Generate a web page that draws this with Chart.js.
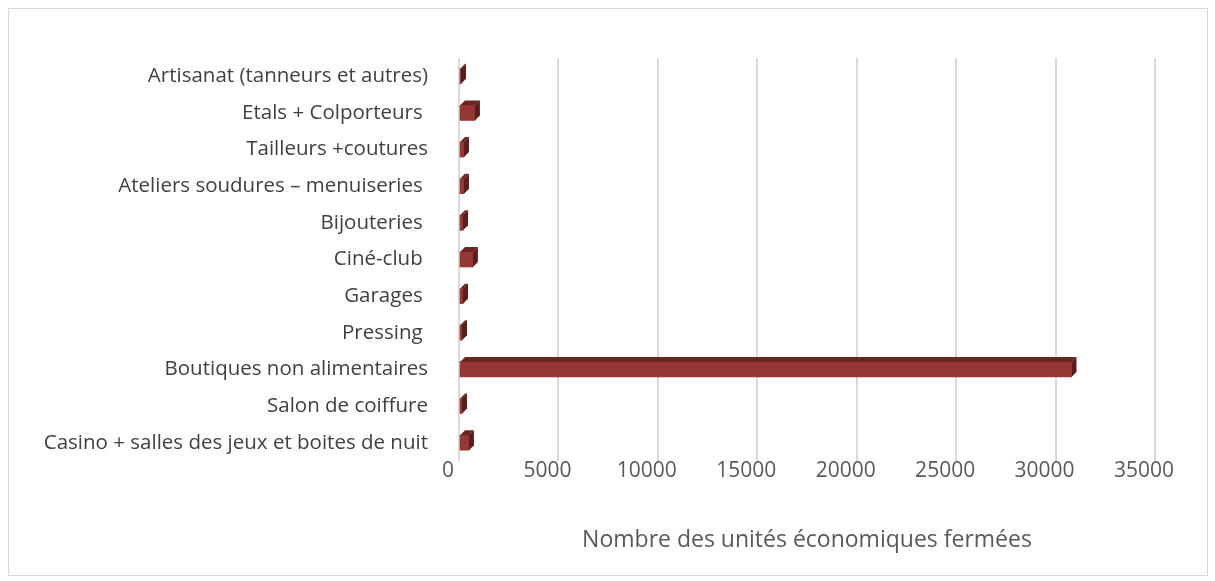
<!DOCTYPE html>
<html lang="fr">
<head>
  <meta charset="UTF-8" />
  <script src="https://cdn.jsdelivr.net/npm/chart.js"></script>
  <title>Unités économiques fermées</title>
  <style>
    body { margin: 0; background: #fff; }
    #cadre { position: absolute; left: 8px; top: 8px; width: 1198px; height: 566px; border: 1px solid #d9d9d9; }
    #zone { width: 1215px; height: 581px; position: relative; }
  </style>
</head>
<body>
  <div id="zone">
    <div id="cadre"></div>
    <canvas id="grafico" width="1215" height="581"></canvas>
  </div>
  <script>
    // categories (du haut vers le bas)
    const categories = [
      'Artisanat (tanneurs et autres)',
      'Etals + Colporteurs ',
      'Tailleurs +coutures',
      'Ateliers soudures – menuiseries ',
      'Bijouteries ',
      'Ciné-club ',
      'Garages ',
      'Pressing ',
      'Boutiques non alimentaires',
      'Salon de coiffure',
      'Casino + salles des jeux et boites de nuit'
    ];
    // valeurs estimées depuis l'image
    const unitesFermees = [100, 800, 250, 250, 200, 700, 200, 150, 30800, 150, 500];
    const ticksX = [0, 5000, 10000, 15000, 20000, 25000, 30000, 35000];

    const police = '"Open Sans", Lato, sans-serif';

    // petit effet 3D : face du dessus + face de droite
    const effet3d = {
      id: 'effet3d',
      afterDatasetsDraw(chart) {
        const ctx = chart.ctx;
        const d = 5;
        chart.getDatasetMeta(0).data.forEach(bar => {
          const x0 = bar.base, x1 = bar.x;
          const h = bar.height, y0 = bar.y - h / 2, y1 = bar.y + h / 2;
          ctx.save();
          ctx.fillStyle = '#6b2423';
          ctx.beginPath();
          ctx.moveTo(x0, y0);
          ctx.lineTo(x0 + d, y0 - d);
          ctx.lineTo(x1 + d, y0 - d);
          ctx.lineTo(x1, y0);
          ctx.closePath();
          ctx.fill();
          ctx.fillStyle = '#5a1d1c';
          ctx.beginPath();
          ctx.moveTo(x1, y0);
          ctx.lineTo(x1 + d, y0 - d);
          ctx.lineTo(x1 + d, y1 - d);
          ctx.lineTo(x1, y1);
          ctx.closePath();
          ctx.fill();
          ctx.restore();
        });
      }
    };

    const ctx = document.getElementById('grafico').getContext('2d');
    new Chart(ctx, {
      type: 'bar',
      data: {
        labels: categories,
        datasets: [{
          data: unitesFermees,
          backgroundColor: '#953735',
          borderWidth: 0,
          barThickness: 15
        }]
      },
      plugins: [effet3d],
      options: {
        indexAxis: 'y',
        responsive: false,
        animation: false,
        layout: { padding: { left: 10, top: 58, right: 60, bottom: 23 } },
        plugins: { legend: { display: false }, tooltip: { enabled: false } },
        scales: {
          x: {
            min: 0,
            max: 35000,
            afterBuildTicks: s => { s.ticks = ticksX.map(v => ({ value: v })); },
            afterFit: s => { s.height = 97; },
            grid: { color: '#d9d9d9', lineWidth: 2, drawTicks: false },
            border: { display: false },
            ticks: {
              color: '#595959',
              font: { family: police, size: 21 },
              padding: -3,
              labelOffset: -11,
              callback: v => String(v)
            },
            title: {
              display: true,
              text: 'Nombre des unités économiques fermées',
              color: '#595959',
              font: { family: police, size: 23 },
              padding: { top: 15 }
            }
          },
          y: {
            afterFit: s => { s.width = 449; },
            grid: { display: false },
            border: { display: false },
            ticks: { color: '#404040', font: { family: police, size: 20.5 }, padding: 23 }
          }
        }
      }
    });
  </script>
</body>
</html>
